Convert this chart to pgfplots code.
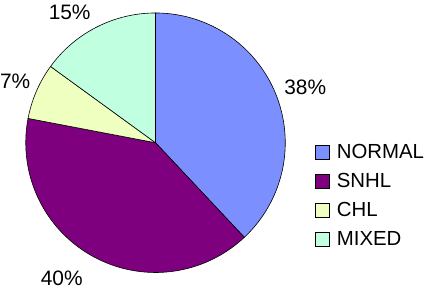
\documentclass[border=0pt]{standalone}
\usepackage{pgfplots}
\pgfplotsset{compat=1.18}
\usepackage{fontspec}
\setmainfont{Liberation Sans}
\definecolor{cNormal}{HTML}{7B8FFF}
\definecolor{cSnhl}{HTML}{7F007F}
\definecolor{cChl}{HTML}{EFFFC0}
\definecolor{cMixed}{HTML}{C0FFE0}
% percentages
\def\pN{38}\def\pS{40}\def\pC{7}\def\pM{15}
\begin{document}
\begin{tikzpicture}
\pgfmathsetmacro{\aA}{90}
\pgfmathsetmacro{\aB}{\aA-3.6*\pN}
\pgfmathsetmacro{\aC}{\aB-3.6*\pS}
\pgfmathsetmacro{\aD}{\aC-3.6*\pC}
\pgfmathsetmacro{\aE}{\aD-3.6*\pM}
\begin{axis}[
  scale only axis, width=427bp, height=292bp,
  xmin=0, xmax=427, ymin=0, ymax=292,
  hide axis, clip=false,
  legend style={at={(axis cs:315,150)}, anchor=north west, draw=none, fill=none,
    font=\fontsize{20.5}{24}\selectfont, row sep=9.5bp, inner sep=0pt},
  legend image code/.code={\draw[#1,draw=black,line width=0.5pt] (0bp,-7bp) rectangle (14bp,7bp);},
  legend cell align=left,
]
\addplot[fill=cNormal, draw=black, line width=0.6pt, domain=\aB:\aA, samples=80] ({155+130*cos(x)},{149+130*sin(x)}) -- (axis cs:155,149) -- cycle;
\addlegendentry{\hspace{5bp}NORMAL}
\addplot[fill=cSnhl, draw=black, line width=0.6pt, domain=\aC:\aB, samples=80] ({155+130*cos(x)},{149+130*sin(x)}) -- (axis cs:155,149) -- cycle;
\addlegendentry{\hspace{5bp}SNHL}
\addplot[fill=cChl, draw=black, line width=0.6pt, domain=\aD:\aC, samples=30] ({155+130*cos(x)},{149+130*sin(x)}) -- (axis cs:155,149) -- cycle;
\addlegendentry{\hspace{5bp}CHL}
\addplot[fill=cMixed, draw=black, line width=0.6pt, domain=\aE:\aD, samples=40] ({155+130*cos(x)},{149+130*sin(x)}) -- (axis cs:155,149) -- cycle;
\addlegendentry{\hspace{5bp}MIXED}
\node[font=\fontsize{21}{24}\selectfont] at (axis cs:305,205) {38\%};
\node[font=\fontsize{21}{24}\selectfont] at (axis cs:61,13) {40\%};
\node[font=\fontsize{21}{24}\selectfont, anchor=west, inner sep=0pt] at (axis cs:-1,211) {7\%};
\node[font=\fontsize{21}{24}\selectfont] at (axis cs:69,280) {15\%};
\end{axis}
\path[use as bounding box] (0,0) rectangle (427bp,292bp);
\end{tikzpicture}
\end{document}
